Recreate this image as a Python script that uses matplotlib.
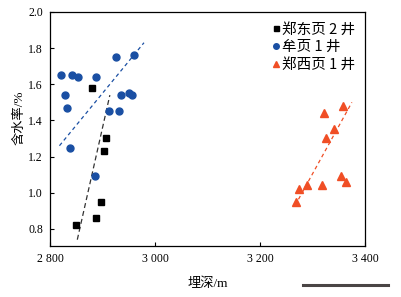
import matplotlib
matplotlib.use("Agg")
import matplotlib.pyplot as plt
from matplotlib.lines import Line2D

plt.rcParams['font.family'] = ['Liberation Serif', 'Noto Sans CJK SC', 'DejaVu Sans']

# Data
zd_x = [2880, 2907, 2902, 2897, 2887, 2850]
zd_y = [1.58, 1.30, 1.23, 0.95, 0.86, 0.82]
zd_fit_x = [2852, 2914]
zd_fit_y = [0.74, 1.54]

my_x = [2821, 2841, 2853, 2887, 2926, 2960, 2828, 2832, 2913, 2931, 2935, 2950, 2956, 2839, 2885]
my_y = [1.65, 1.65, 1.64, 1.64, 1.75, 1.76, 1.54, 1.47, 1.45, 1.45, 1.54, 1.55, 1.54, 1.25, 1.09]
my_fit_x = [2818, 2979]
my_fit_y = [1.26, 1.83]

zx_x = [3321, 3359, 3341, 3325, 3268, 3274, 3289, 3319, 3355, 3364]
zx_y = [1.44, 1.48, 1.35, 1.30, 0.95, 1.02, 1.04, 1.04, 1.09, 1.06]
zx_fit_x = [3267, 3375]
zx_fit_y = [0.93, 1.50]

labels = ['郑东页 2 井', '牟页 1 井', '郑西页 1 井']
xticks = [2800, 3000, 3200, 3400]
xticklabels = ['2 800', '3 000', '3 200', '3 400']
yticks = [0.8, 1.0, 1.2, 1.4, 1.6, 1.8, 2.0]

blue = '#1a4fa3'
red = '#f04e25'

fig = plt.figure(figsize=(4.02, 2.97), dpi=100)
ax = fig.add_axes([50/402, 1-246/297, 315/402, 234/297])

ax.plot(zd_x, zd_y, 's', color='black', ms=4.5, label=labels[0], zorder=3)
ax.plot(my_x, my_y, 'o', color=blue, ms=5, label=labels[1], zorder=3)
ax.plot(zx_x, zx_y, '^', color=red, ms=5.5, label=labels[2], zorder=3)

ax.plot(zd_fit_x, zd_fit_y, '--', color='#333333', lw=0.9, dashes=(4, 2.5))
ax.plot(my_fit_x, my_fit_y, '--', color=blue, lw=0.9, dashes=(3, 2.5))
ax.plot(zx_fit_x, zx_fit_y, '--', color=red, lw=0.9, dashes=(3, 2.5))

ax.set_xlim(2800, 3400)
ax.set_ylim(0.705, 2.0)
ax.set_xticks(xticks)
ax.set_xticklabels(xticklabels)
ax.set_yticks(yticks)
ax.set_yticklabels([f'{v:.1f}' for v in yticks])
ax.tick_params(direction='in', length=3, width=0.8, labelsize=8.5, pad=5)
for s in ax.spines.values():
    s.set_linewidth(0.9)

ax.set_xlabel('埋深/m', fontsize=9.5, labelpad=9)
ax.set_ylabel('含水率/%', fontsize=9.5)
ax.yaxis.set_label_coords(-0.079, 0.55)

leg = ax.legend(loc='upper right', bbox_to_anchor=(0.968, 0.955), frameon=False,
                handlelength=0.45, handletextpad=0.15, borderaxespad=0.0,
                borderpad=0.0, labelspacing=0.25, markerscale=0.8,
                prop={'family': ['Noto Sans CJK SC', 'DejaVu Sans'], 'size': 10.5})

fig.add_artist(Line2D([303/402, 388/402], [1-285/297, 1-285/297], color='#4a4545', lw=2.2))

fig.savefig('out.png', dpi=100)
